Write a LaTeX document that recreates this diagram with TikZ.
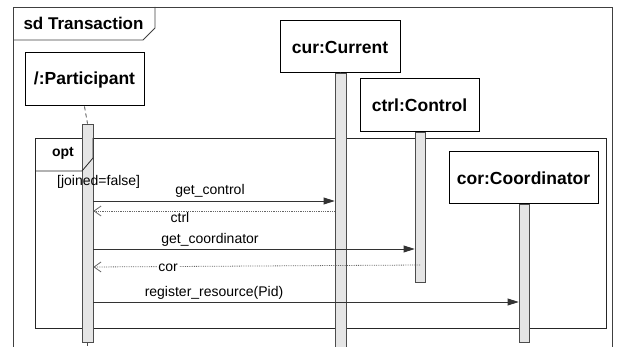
\documentclass[tikz,border=0pt]{standalone}
\usepackage{fontspec}
\setmainfont{Liberation Sans}
\usetikzlibrary{arrows.meta}
\begin{document}
\begin{tikzpicture}[x=1pt,y=-1pt,
  frameline/.style={draw=black!75, line width=0.8pt},
  lifebox/.style={draw=black, line width=1pt, fill=white, rectangle, inner sep=0pt,
    font=\fontsize{17.5}{20}\selectfont\bfseries},
  actbar/.style={draw=black!70, line width=0.8pt, fill=black!10, rectangle, inner sep=0pt, minimum width=10pt},
  lifeline/.style={draw=black!70, line width=0.8pt, dash pattern=on 4pt off 3pt},
  call/.style={draw=black!80, line width=0.8pt, -{Triangle[length=11pt,width=7pt]}},
  reply/.style={draw=black!60, line width=0.8pt, densely dotted, -{Straight Barb[length=7pt,width=10pt]}},
  msglabel/.style={font=\fontsize{14}{16}\selectfont, inner sep=1pt},
]
\useasboundingbox (0,0) rectangle (621,347);

% outer sd frame
\draw[frameline] (13,347) -- (13,7) -- (612,7) -- (612,347);
\draw[frameline] (13,40) -- (143,40) -- (155,28) -- (155,7);
\node[font=\fontsize{17}{20}\selectfont\bfseries, anchor=west] (sdtitle) at (20,23.5) {sd Transaction};

% lifeline heads
\node[lifebox, minimum width=119pt, minimum height=53pt] (part) at (84.5,79.5) {/:Participant};
\node[lifebox, minimum width=120pt, minimum height=52pt] (cur) at (340,47) {cur:Current};
\node[lifebox, minimum width=119pt, minimum height=53pt] (ctrl) at (419.5,105.5) {ctrl:Control};

% opt fragment body
\draw[frameline, draw=black!85] (35,138) rectangle (606,328);

\node[lifebox, minimum width=149pt, minimum height=52pt] (cor) at (523.5,178) {cor:Coordinator};

% activation bars
\node[actbar, minimum width=11pt, minimum height=218pt] (pbar) at (87.5,233) {};
\node[actbar, minimum width=11pt, minimum height=280pt] (cbar) at (340.5,213) {};
\node[actbar, minimum height=150pt] (tbar) at (420,207) {};
\node[actbar, minimum height=138pt] (obar) at (524,273) {};

% opt tag and guard, on top of the bars
\draw[frameline, draw=black!85] (35,171) -- (82,171) -- (93,158) -- (93,138);
\node[font=\fontsize{14}{16}\selectfont\bfseries] (opttag) at (63,153) {opt};
\node[msglabel, anchor=west] (guard) at (56,182) {[joined=false]};

% lifelines
\draw[lifeline] (part.south) -- (pbar.north);
\coordinate (pend) at (87.5,350);
\draw[lifeline] (pbar.south) -- (pend);
\draw[draw=black!70, line width=0.8pt] (cur.south) -- (cbar.north);

% messages
\draw[call] (pbar.east |- 0,201) -- (cbar.west |- 0,201);
\node[msglabel] (l1) at (210,191) {get\_control};
\draw[reply] (cbar.west |- 0,211) -- (pbar.east |- 0,211);
\node[msglabel] (l2) at (180,217) {ctrl};

\draw[call] (pbar.east |- 0,249) -- (tbar.west |- 0,249);
\node[msglabel] (l3) at (210,240) {get\_coordinator};
\draw[reply] (tbar.center |- 0,265) -- (pbar.east |- 0,267);
\node[msglabel, fill=white] (l4) at (168,268) {cor};

\draw[call] (pbar.east |- 0,302) -- (obar.west |- 0,302);
\node[msglabel] (l5) at (214,293) {register\_resource(Pid)};
\end{tikzpicture}
\end{document}
